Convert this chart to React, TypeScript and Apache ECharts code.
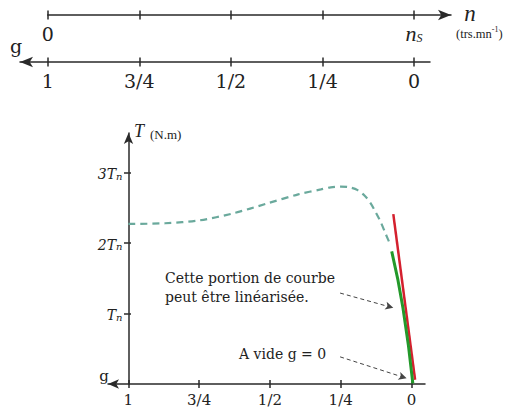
import React, { useEffect, useRef } from 'react';
import * as echarts from 'echarts';

// ---- tick values / labels ----
const gTicks = [1, 0.75, 0.5, 0.25, 0];
const gTickLabels = ['1', '3/4', '1/2', '1/4', '0'];
const nTicks = [0, 0.25, 0.5, 0.75, 1];
const nTickLabels = ['0', '', '', '', 'ns'];
const tTicks = [1, 2, 3];
const tTickCoef = ['', '2', '3'];

// ---- torque curve T(g) in units of Tn ----
const curveG = [1.0, 0.87, 0.75, 0.63, 0.51, 0.40, 0.32, 0.285, 0.25, 0.22, 0.19, 0.165, 0.145, 0.128, 0.11, 0.092, 0.074];
const curveT = [2.27, 2.28, 2.32, 2.42, 2.56, 2.69, 2.76, 2.79, 2.80, 2.79, 2.75, 2.67, 2.57, 2.45, 2.31, 2.14, 1.97];
// linear portion (green) and tangent (red)
const greenG = [0.0696, 0.030, -0.005];
const greenT = [1.88, 1.08, 0.01];
const redG = [0.064, -0.013];
const redT = [2.41, 0.06];
// annotation arrows (from -> to), in (g, T)
const arrowFrom = [[0.252, 1.29], [0.252, 0.385]];
const arrowTo = [[0.064, 1.08], [0.017, 0.081]];

const SERIF = 'DejaVu Serif';
const AXIS = '#2a2a2a';

function lbl(ticks: number[], labels: string[]) {
  return (v: number) => {
    const i = ticks.findIndex((t) => Math.abs(t - v) < 1e-6);
    return i >= 0 ? labels[i] : '';
  };
}

export default function App() {
  const ref = useRef<HTMLDivElement>(null);
  useEffect(() => {
    if (!ref.current) return;
    const chart = echarts.init(ref.current, undefined, { renderer: 'svg' });
    const zip = (a: number[], b: number[]) => a.map((x, i) => [x, b[i]]);

    const tickOut = (len: number) => ({ show: true, inside: false, length: len, lineStyle: { color: AXIS, width: 1.5 } });
    const tickIn = (len: number) => ({ show: true, inside: true, length: len, lineStyle: { color: AXIS, width: 1.5 } });

    chart.setOption({
      animation: false,
      textStyle: { fontFamily: SERIF },
      grid: [
        { left: 47.7, width: 403.3, top: 10, height: 5 },
        { left: 20, right: 77, top: 57, height: 5 },
        { left: 108, right: 82, top: 133, bottom: 19.5 },
      ],
      xAxis: [
        {
          gridIndex: 0, type: 'value', min: 0, max: 1.101, position: 'bottom',
          axisLine: { show: true, onZero: false, symbol: ['none', 'arrow'], symbolSize: [8, 13], lineStyle: { color: AXIS, width: 1.5 } },
          axisTick: { ...tickOut(4.5), customValues: nTicks },
          axisLabel: {
            customValues: nTicks, margin: 9, color: '#222', fontSize: 19, fontFamily: SERIF,
            formatter: (v: number) => {
              const s = lbl(nTicks, nTickLabels)(v);
              return s === 'ns' ? '{i|n}{s|S}' : s;
            },
            rich: {
              i: { fontFamily: 'Liberation Serif', fontStyle: 'italic', fontSize: 22, color: '#222', verticalAlign: 'bottom', lineHeight: 20 },
              s: { fontFamily: 'Liberation Serif', fontStyle: 'italic', fontSize: 12, color: '#222', verticalAlign: 'bottom', lineHeight: 14 },
            },
          },
          splitLine: { show: false },
        },
        {
          gridIndex: 0, type: 'value', min: 0, max: 1.101, position: 'bottom',
          axisLine: { show: false, onZero: false },
          axisTick: { ...tickIn(4.5), customValues: nTicks },
          axisLabel: { show: false },
          splitLine: { show: false },
        },
        {
          gridIndex: 1, type: 'value', min: -0.0437, max: 1.0756, inverse: true, position: 'bottom',
          axisLine: { show: true, onZero: false, symbol: ['arrow', 'none'], symbolSize: [8, 13], lineStyle: { color: AXIS, width: 1.5 } },
          axisTick: { ...tickOut(4.5), customValues: gTicks },
          axisLabel: { customValues: gTicks, margin: 9, color: '#222', fontSize: 19, fontFamily: SERIF, formatter: lbl(gTicks, gTickLabels) },
          splitLine: { show: false },
        },
        {
          gridIndex: 1, type: 'value', min: -0.0437, max: 1.0756, inverse: true, position: 'bottom',
          axisLine: { show: false, onZero: false },
          axisTick: { ...tickIn(4.5), customValues: gTicks },
          axisLabel: { show: false },
          splitLine: { show: false },
        },
        {
          gridIndex: 2, type: 'value', min: -0.048, max: 1.072, inverse: true, position: 'bottom',
          axisLine: { show: true, onZero: false, symbol: ['arrow', 'none'], symbolSize: [7, 11], lineStyle: { color: AXIS, width: 1.5 } },
          axisTick: { ...tickOut(4), customValues: gTicks },
          axisLabel: { customValues: gTicks, margin: 8, color: '#222', fontSize: 15, fontFamily: SERIF, formatter: lbl(gTicks, gTickLabels) },
          splitLine: { show: false },
        },
        {
          gridIndex: 2, type: 'value', min: -0.048, max: 1.072, inverse: true, position: 'bottom',
          axisLine: { show: false, onZero: false },
          axisTick: { ...tickIn(4), customValues: gTicks },
          axisLabel: { show: false },
          splitLine: { show: false },
        },
      ],
      yAxis: [
        { gridIndex: 0, type: 'value', min: 0, max: 1, show: false },
        { gridIndex: 1, type: 'value', min: 0, max: 1, show: false },
        {
          gridIndex: 2, type: 'value', min: 0, max: 3.56, position: 'left', offset: -20.5,
          axisLine: { show: true, onZero: false, symbol: ['none', 'arrow'], symbolSize: [7, 11], lineStyle: { color: AXIS, width: 1.5 } },
          axisTick: { ...tickOut(4.5), customValues: tTicks },
          axisLabel: {
            customValues: tTicks, margin: 6,
            formatter: (v: number) => {
              const i = tTicks.indexOf(v);
              return i >= 0 ? `{a|${tTickCoef[i]}T}{b|n}` : '';
            },
            rich: {
              a: { fontFamily: SERIF, fontStyle: 'italic', fontSize: 14, color: '#222', verticalAlign: 'bottom', lineHeight: 18 },
              b: { fontFamily: SERIF, fontStyle: 'italic', fontSize: 10, color: '#222', verticalAlign: 'bottom', lineHeight: 12 },
            },
          },
          splitLine: { show: false },
        },
        {
          gridIndex: 2, type: 'value', min: 0, max: 3.56, position: 'left', offset: -20.5,
          axisLine: { show: false, onZero: false },
          axisTick: { ...tickIn(2.5), customValues: tTicks },
          axisLabel: { show: false },
          splitLine: { show: false },
        },
      ],
      series: [
        {
          type: 'line', xAxisIndex: 4, yAxisIndex: 2, data: zip(curveG, curveT),
          smooth: 0.3, showSymbol: false, symbol: 'none',
          lineStyle: { color: '#6aa99c', width: 2.2, type: [7, 5] },
          markLine: {
            silent: true, symbol: ['none', 'arrow'], symbolSize: [6, 8],
            label: { show: false },
            lineStyle: { color: '#444', width: 1, type: [4, 3] },
            data: arrowFrom.map((f, i) => [{ coord: f }, { coord: arrowTo[i] }]),
          },
          z: 2,
        },
        {
          type: 'line', xAxisIndex: 4, yAxisIndex: 2, data: zip(redG, redT),
          showSymbol: false, symbol: 'none', lineStyle: { color: '#d4202e', width: 2.5 }, z: 3,
        },
        {
          type: 'line', xAxisIndex: 4, yAxisIndex: 2, data: zip(greenG, greenT),
          smooth: 0.5, showSymbol: false, symbol: 'none', lineStyle: { color: '#23992a', width: 3 }, z: 4,
        },
      ],
      graphic: [
        { type: 'text', x: 470, y: 13, style: { text: 'n', font: 'italic 23px "Liberation Serif"', fill: '#222', align: 'center', verticalAlign: 'middle' } },
        {
          type: 'text', x: 456, y: 33,
          style: {
            text: '{p|(trs.mn}{q|-1}{p|)}', fill: '#222', align: 'left', verticalAlign: 'middle',
            rich: {
              p: { fontFamily: 'Liberation Serif', fontSize: 12.5, fill: '#222', lineHeight: 15, verticalAlign: 'bottom' },
              q: { fontFamily: 'Liberation Serif', fontSize: 8, fill: '#222', lineHeight: 15, verticalAlign: 'top' },
            },
          },
        },
        { type: 'text', x: 16, y: 46, style: { text: 'g', font: `19px "${SERIF}"`, fill: '#222', align: 'center', verticalAlign: 'middle' } },
        { type: 'text', x: 104, y: 376, style: { text: 'g', font: `15px "${SERIF}"`, fill: '#222', align: 'center', verticalAlign: 'middle' } },
        { type: 'text', x: 139, y: 131, style: { text: 'T', font: 'italic 18px "Liberation Serif"', fill: '#222', align: 'center', verticalAlign: 'middle' } },
        { type: 'text', x: 150, y: 134, style: { text: '(N.m)', font: '13px "Liberation Serif"', fill: '#222', align: 'left', verticalAlign: 'middle' } },
        { type: 'text', x: 165, y: 278, style: { text: 'Cette portion de courbe', font: `14px "${SERIF}"`, fill: '#222', align: 'left', verticalAlign: 'middle' } },
        { type: 'text', x: 165, y: 297, style: { text: 'peut être linéarisée.', font: `14px "${SERIF}"`, fill: '#222', align: 'left', verticalAlign: 'middle' } },
        { type: 'text', x: 239, y: 354, style: { text: 'A vide g = 0', font: `14px "${SERIF}"`, fill: '#222', align: 'left', verticalAlign: 'middle' } },
      ],
    });
    return () => chart.dispose();
  }, []);
  return <div ref={ref} style={{ position: 'fixed', left: 0, top: 0, width: 507, height: 407, background: '#fff' }} />;
}
